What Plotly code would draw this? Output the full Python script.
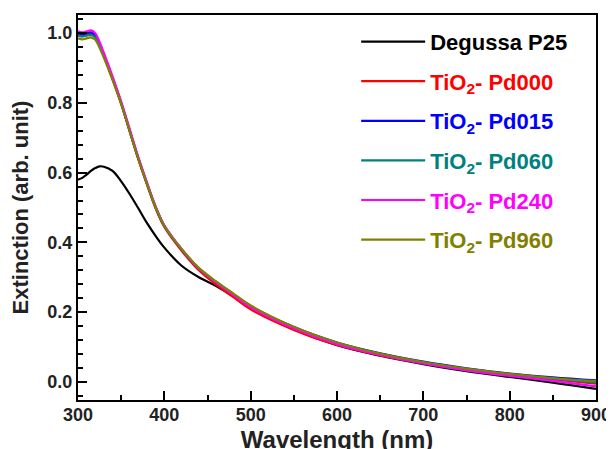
import plotly.graph_objects as go

wavelength = [300, 305, 310, 315, 320, 325, 330, 340, 350, 360, 370, 380, 390, 400,
              420, 440, 460, 480, 500, 550, 600, 650, 700, 750, 800, 850, 900]

degussa_p25 = [0.580, 0.585, 0.594, 0.605, 0.613, 0.618, 0.617, 0.605, 0.575, 0.538, 0.497, 0.455,
               0.418, 0.385, 0.333, 0.300, 0.275, 0.245, 0.212, 0.150, 0.105, 0.075, 0.051, 0.031,
               0.014, -0.002, -0.020]
pd000 = [0.996, 0.993, 0.996, 0.998, 0.990, 0.966, 0.935, 0.868, 0.797, 0.717, 0.637, 0.565,
         0.497, 0.444, 0.376, 0.320, 0.279, 0.243, 0.208, 0.149, 0.106, 0.076, 0.053, 0.034,
         0.019, 0.007, -0.005]
pd015 = [1.000, 0.997, 1.000, 1.002, 0.994, 0.969, 0.937, 0.870, 0.799, 0.719, 0.640, 0.568,
         0.500, 0.447, 0.380, 0.325, 0.286, 0.251, 0.217, 0.157, 0.113, 0.082, 0.058, 0.039,
         0.024, 0.013, 0.004]
pd060 = [0.993, 0.990, 0.993, 0.995, 0.988, 0.965, 0.935, 0.870, 0.800, 0.720, 0.640, 0.568,
         0.500, 0.447, 0.380, 0.325, 0.285, 0.250, 0.216, 0.155, 0.110, 0.079, 0.055, 0.036,
         0.021, 0.009, -0.002]
pd240 = [1.005, 1.002, 1.005, 1.008, 1.000, 0.975, 0.943, 0.876, 0.804, 0.724, 0.644, 0.571,
         0.503, 0.449, 0.381, 0.325, 0.285, 0.249, 0.214, 0.153, 0.108, 0.077, 0.053, 0.033,
         0.017, 0.003, -0.013]
pd960 = [0.985, 0.982, 0.985, 0.988, 0.981, 0.958, 0.929, 0.866, 0.797, 0.718, 0.639, 0.567,
         0.500, 0.447, 0.381, 0.327, 0.288, 0.253, 0.219, 0.158, 0.113, 0.081, 0.057, 0.038,
         0.023, 0.011, 0.002]

series = [
    ("Degussa P25", degussa_p25, "#000000"),
    ("TiO<sub>2</sub>- Pd000", pd000, "#FF0000"),
    ("TiO<sub>2</sub>- Pd015", pd015, "#0000FF"),
    ("TiO<sub>2</sub>- Pd060", pd060, "#008080"),
    ("TiO<sub>2</sub>- Pd240", pd240, "#FF00FF"),
    ("TiO<sub>2</sub>- Pd960", pd960, "#808000"),
]

fig = go.Figure()
for i, (name, ys, col) in enumerate(series):
    fig.add_trace(go.Scatter(
        x=wavelength, y=ys, mode="lines", line=dict(color=col, width=2.2, shape="spline"),
        name=f'<span style="color:{col}">{name}</span>', legendgroup=f"g{i}",
    ))

font_family = "Liberation Sans, Arial, sans-serif"
axis_common = dict(
    showline=True, mirror=True, linecolor="black", linewidth=2,
    ticks="inside", ticklen=9, tickwidth=2, tickcolor="black",
    showgrid=False, zeroline=False, automargin=False,
    tickfont=dict(family=font_family, size=18, color="#222", weight="bold"),
)

# The page body adds an 8px offset; the figure is sized so its plot area matches the window.
fig.update_layout(
    width=606, height=445,
    margin=dict(l=70, r=18, t=7, b=53),
    paper_bgcolor="white", plot_bgcolor="white",
    font=dict(family=font_family, color="black"),
    showlegend=True,
    legend=dict(
        x=0.537, y=0.985, xanchor="left", yanchor="top",
        font=dict(family=font_family, size=22, color="black", weight="bold"),
        tracegroupgap=8, itemwidth=64, bgcolor="rgba(0,0,0,0)",
    ),
)
fig.update_xaxes(
    range=[300, 900], dtick=100, tick0=300, ticklabelstandoff=-3,
    minor=dict(ticks="inside", ticklen=5, tickwidth=2, dtick=50, tickcolor="black"),
    title=dict(text="<b>Wavelength (nm)</b>", font=dict(family=font_family, size=24, color="#222"), standoff=13),
    **axis_common,
)
fig.update_yaxes(
    range=[-0.052, 1.052], dtick=0.2, tick0=0, tickformat=".1f",
    minor=dict(ticks="inside", ticklen=5, tickwidth=2, dtick=0.04, tick0=0, tickcolor="black"),
    title=dict(text="<b>Extinction (arb. unit)</b>", font=dict(family=font_family, size=22, color="#222"), standoff=14),
    **axis_common,
)

fig.write_html("out.html")
